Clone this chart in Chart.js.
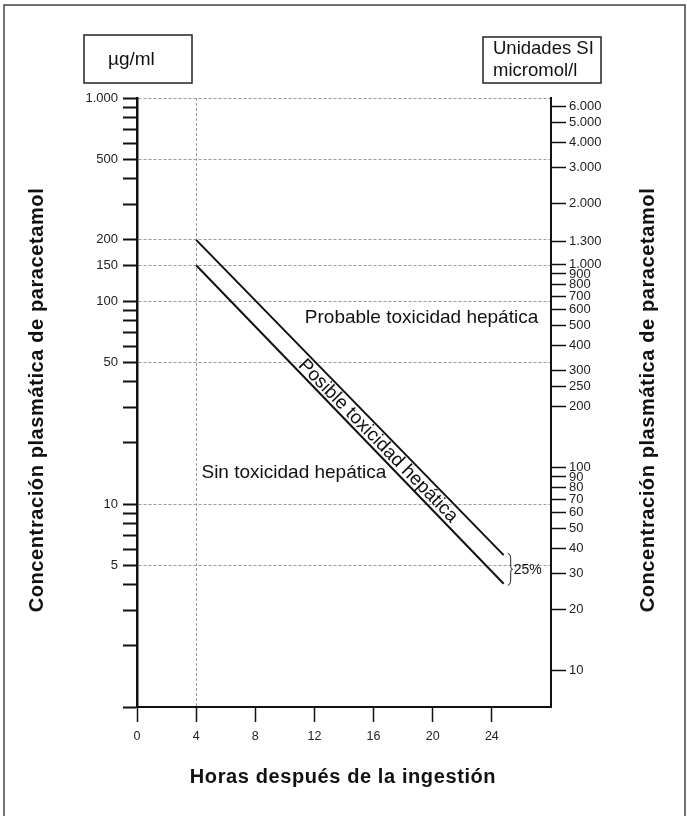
<!DOCTYPE html>
<html lang="es">
<head>
<meta charset="utf-8">
<title>Nomograma de paracetamol</title>
<script src="https://cdn.jsdelivr.net/npm/chart.js@4.4.1/dist/chart.umd.min.js"></script>
<style>
  html, body { margin: 0; padding: 0; background: #fff; }
  #wrap { width: 687px; height: 816px; }
</style>
</head>
<body>
<div id="wrap"><canvas id="nomogram" width="687" height="816"></canvas></div>
<script>
// Nomograma de paracetamol (Rumack-Matthew)

const hours = [4, 24.8];
const probableLine = [200, 5.6];    // linea superior
const possibleLine = [150, 4.05];   // linea inferior (25% por debajo)

const hourTicks = [0, 4, 8, 12, 16, 20, 24];
const hourGrid = [4];
const ugTicksLabeled = [1000, 500, 200, 150, 100, 50, 10, 5];
const ugTicksMinor = [900, 800, 700, 600, 400, 300, 90, 80, 70, 60, 40, 30, 20, 9, 8, 7, 6, 4, 3, 2, 1];
const umolTicks = [6000, 5000, 4000, 3000, 2000, 1300, 1000, 900, 800, 700, 600, 500, 400, 300, 250, 200,
                   100, 90, 80, 70, 60, 50, 40, 30, 20, 10];
const UMOL_PER_UG = 6.62;

const FONT = '"Liberation Sans", Arial, Helvetica, sans-serif';
const GRID = '#9a9a9a';

// 1.000 / 6.000 style
const fmt = v => String(v).replace(/\B(?=(\d{3})+(?!\d))/g, '.');

const lineData = vals => vals.map((v, i) => ({ x: hours[i], y: v }));

const drawText = (ctx, text, x, y, font, opts = {}) => {
  ctx.save();
  ctx.font = font;
  ctx.letterSpacing = opts.spacing || '0px';
  ctx.textAlign = opts.align || 'left';
  ctx.textBaseline = opts.baseline || 'alphabetic';
  ctx.translate(x, y);
  if (opts.rotate) ctx.rotate(opts.rotate);
  ctx.fillStyle = '#111';
  ctx.fillText(text, 0, 0);
  ctx.restore();
};

const extras = {
  id: 'extras',
  afterDraw(chart) {
    const { ctx, scales: { x, y } } = chart;
    ctx.save();

    // page frame
    ctx.strokeStyle = '#444';
    ctx.lineWidth = 1.5;
    ctx.beginPath();
    ctx.moveTo(4, 816);
    ctx.lineTo(4, 5);
    ctx.lineTo(685, 5);
    ctx.lineTo(685, 816);
    ctx.stroke();

    // unit boxes
    ctx.strokeStyle = '#222';
    ctx.lineWidth = 1.5;
    ctx.strokeRect(84, 35, 108, 48);
    ctx.strokeRect(483, 37, 118, 46);
    drawText(ctx, 'µg/ml', 108, 60, `19px ${FONT}`, { baseline: 'middle' });
    drawText(ctx, 'Unidades SI', 493, 49, `18.5px ${FONT}`, { baseline: 'middle' });
    drawText(ctx, 'micromol/l', 493, 71, `18.5px ${FONT}`, { baseline: 'middle' });

    // axis titles
    const title = 'Concentración plasmática de paracetamol';
    const bold = `bold 20px ${FONT}`;
    drawText(ctx, title, 37, 400, bold, { align: 'center', baseline: 'middle', rotate: -Math.PI / 2, spacing: '0.6px' });
    drawText(ctx, title, 648, 400, bold, { align: 'center', baseline: 'middle', rotate: -Math.PI / 2, spacing: '0.6px' });
    drawText(ctx, 'Horas después de la ingestión', 343, 777, bold, { align: 'center', baseline: 'middle', spacing: '0.6px' });

    // region labels
    const reg = `19px ${FONT}`;
    drawText(ctx, 'Probable toxicidad hepática', x.getPixelForValue(11.35), y.getPixelForValue(78), reg);
    drawText(ctx, 'Sin toxicidad hepática', x.getPixelForValue(4.36), y.getPixelForValue(13.4), reg);

    // label inside the band, along the lines
    const x1 = x.getPixelForValue(hours[0]), x2 = x.getPixelForValue(hours[1]);
    const u1 = y.getPixelForValue(probableLine[0]), u2 = y.getPixelForValue(probableLine[1]);
    const l1 = y.getPixelForValue(possibleLine[0]), l2 = y.getPixelForValue(possibleLine[1]);
    const angle = Math.atan2(u2 - u1, x2 - x1);
    const cx = x.getPixelForValue(16.3);
    const t = (cx - x1) / (x2 - x1);
    const cy = ((u1 + (u2 - u1) * t) + (l1 + (l2 - l1) * t)) / 2;
    drawText(ctx, 'Posible toxicidad hepática', cx, cy + 1, reg, { align: 'center', baseline: 'middle', rotate: angle });

    // 25% brace at the end of the lines
    const bx = x2 + 5;
    const top = u2 - 2, bot = l2 + 2, mid = (top + bot) / 2;
    ctx.strokeStyle = '#222';
    ctx.lineWidth = 1;
    ctx.beginPath();
    ctx.moveTo(bx - 1, top);
    ctx.quadraticCurveTo(bx + 2, top + 1, bx + 2, top + 5);
    ctx.lineTo(bx + 2, mid - 3);
    ctx.quadraticCurveTo(bx + 2, mid, bx + 4, mid);
    ctx.quadraticCurveTo(bx + 2, mid, bx + 2, mid + 3);
    ctx.lineTo(bx + 2, bot - 5);
    ctx.quadraticCurveTo(bx + 2, bot - 1, bx - 1, bot);
    ctx.stroke();
    drawText(ctx, '25%', bx + 5, mid + 1, `14px ${FONT}`, { baseline: 'middle' });

    ctx.restore();
  }
};

const tickFont = { family: FONT, size: 13 };

new Chart(document.getElementById('nomogram'), {
  type: 'line',
  data: {
    datasets: [
      {
        label: 'Probable toxicidad',
        data: lineData(probableLine),
        borderColor: '#111',
        borderWidth: 2,
        pointRadius: 0,
        fill: false,
        yAxisID: 'y'
      },
      {
        label: 'Posible toxicidad',
        data: lineData(possibleLine),
        borderColor: '#111',
        borderWidth: 2,
        pointRadius: 0,
        fill: false,
        yAxisID: 'y'
      }
    ]
  },
  options: {
    responsive: false,
    animation: false,
    layout: { padding: { top: 98 } },
    plugins: {
      legend: { display: false },
      tooltip: { enabled: false }
    },
    scales: {
      x: {
        type: 'linear',
        min: 0,
        max: 28,
        afterBuildTicks: s => { s.ticks = hourTicks.map(v => ({ value: v })); },
        afterFit: s => { s.height = 109; },
        grid: {
          color: c => hourGrid.includes(c.tick && c.tick.value) ? GRID : 'rgba(0,0,0,0)',
          lineWidth: 1,
          tickColor: '#111',
          tickWidth: 1.5,
          tickLength: 15
        },
        border: { display: true, color: '#111', width: 2, dash: [3, 2] },
        ticks: { color: '#222', font: { family: FONT, size: 12.5 }, padding: 7, autoSkip: false, maxRotation: 0 }
      },
      y: {
        type: 'logarithmic',
        position: 'left',
        min: 1,
        max: 1000,
        afterBuildTicks: s => {
          s.ticks = ugTicksLabeled.concat(ugTicksMinor).sort((a, b) => b - a).map(v => ({ value: v }));
        },
        afterFit: s => { s.width = 137; },
        grid: {
          color: c => ugTicksLabeled.includes(c.tick && c.tick.value) ? GRID : 'rgba(0,0,0,0)',
          lineWidth: 1,
          tickColor: '#111',
          tickWidth: 2,
          tickLength: 14
        },
        border: { display: true, color: '#111', width: 2.5, dash: [3, 2] },
        ticks: {
          color: '#222',
          font: tickFont,
          padding: 5,
          autoSkip: false,
          callback: v => ugTicksLabeled.includes(v) ? fmt(v) : ''
        }
      },
      y2: {
        type: 'logarithmic',
        position: 'right',
        min: 1 * UMOL_PER_UG,
        max: 1000 * UMOL_PER_UG,
        afterBuildTicks: s => { s.ticks = umolTicks.map(v => ({ value: v })); },
        afterFit: s => { s.width = 136; },
        grid: {
          drawOnChartArea: false,
          color: '#111',
          tickColor: '#111',
          tickWidth: 1.5,
          tickLength: 15
        },
        border: { display: true, color: '#111', width: 2 },
        ticks: {
          color: '#222',
          font: tickFont,
          padding: 3,
          autoSkip: false,
          callback: v => fmt(v)
        }
      }
    }
  },
  plugins: [extras]
});
</script>
</body>
</html>
